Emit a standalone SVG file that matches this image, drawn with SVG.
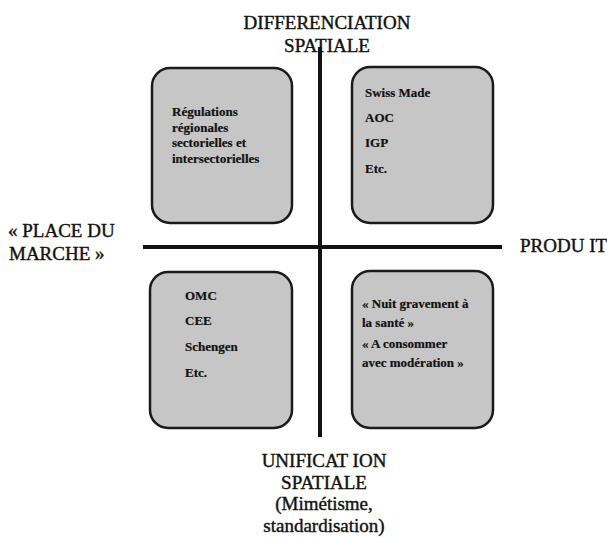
<svg xmlns="http://www.w3.org/2000/svg" width="607" height="537" viewBox="0 0 607 537">
<style>
.box{fill:#c6c6c6;stroke:#1a1a1a;stroke-width:2.5}
.bt{font-family:"Liberation Serif",serif;font-weight:bold;font-size:13px;fill:#111;stroke:#111;stroke-width:0.2}
.lab{font-family:"Liberation Serif",serif;font-size:19px;fill:#111;stroke:#111;stroke-width:0.4}
.axis{stroke:#111;stroke-width:4}
</style>
<rect width="607" height="537" fill="#fff"/>
<g id="axes">
<line class="axis" x1="320" y1="47" x2="320" y2="437"/>
<line class="axis" x1="143" y1="247" x2="502" y2="247"/>
</g>
<g id="box-tl">
<rect class="box" x="152" y="68" width="140" height="155" rx="18"/>
<text class="bt" x="172" y="116">Régulations</text>
<text class="bt" x="172" y="132">régionales</text>
<text class="bt" x="172" y="147">sectorielles et</text>
<text class="bt" x="172" y="163">intersectorielles</text>
</g>
<g id="box-tr">
<rect class="box" x="352" y="67" width="141" height="156" rx="18"/>
<text class="bt" x="365" y="97">Swiss Made</text>
<text class="bt" x="365" y="122">AOC</text>
<text class="bt" x="365" y="147">IGP</text>
<text class="bt" x="365" y="173">Etc.</text>
</g>
<g id="box-bl">
<rect class="box" x="150" y="272" width="142" height="156" rx="18"/>
<text class="bt" x="185" y="300">OMC</text>
<text class="bt" x="185" y="325">CEE</text>
<text class="bt" x="185" y="351">Schengen</text>
<text class="bt" x="185" y="377">Etc.</text>
</g>
<g id="box-br">
<rect class="box" x="352" y="271" width="141" height="157" rx="18"/>
<text class="bt" x="362" y="308">« Nuit gravement à</text>
<text class="bt" x="362" y="327">la santé »</text>
<text class="bt" x="362" y="348">« A consommer</text>
<text class="bt" x="362" y="367">avec modération »</text>
</g>
<g id="label-top">
<text class="lab" x="327" y="29" text-anchor="middle">DIFFERENCIATION</text>
<text class="lab" x="327" y="52" text-anchor="middle">SPATIALE</text>
</g>
<g id="label-left">
<text class="lab" x="8" y="237">« PLACE DU</text>
<text class="lab" x="9" y="260">MARCHE »</text>
</g>
<g id="label-right">
<text class="lab" x="520" y="252">PRODU IT</text>
</g>
<g id="label-bottom">
<text class="lab" x="324" y="467" text-anchor="middle">UNIFICAT ION</text>
<text class="lab" x="324" y="489" text-anchor="middle">SPATIALE</text>
<text class="lab" x="324" y="510" text-anchor="middle">(Mimétisme,</text>
<text class="lab" x="324" y="532" text-anchor="middle">standardisation)</text>
</g>
</svg>
